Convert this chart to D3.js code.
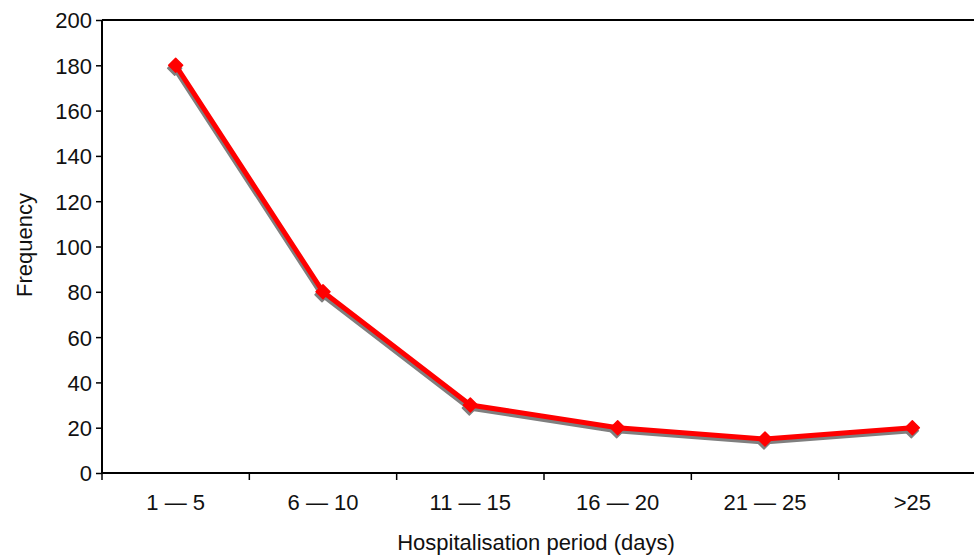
<!DOCTYPE html>
<html>
<head>
<meta charset="utf-8">
<script src="https://cdn.jsdelivr.net/npm/d3@7"></script>
<style>
  body { margin: 0; background: #fff; }
  text { font-family: "Liberation Sans", Arial, sans-serif; fill: #111; }
</style>
</head>
<body>
<svg id="chart"></svg>
<script>
const categories = ["1 \u2014 5", "6 \u2014 10", "11 \u2014 15", "16 \u2014 20", "21 \u2014 25", ">25"]
const frequency = [180, 80, 30, 20, 15, 20]
const yTicks = [0, 20, 40, 60, 80, 100, 120, 140, 160, 180, 200]

const width = 974, height = 555
const margin = {top: 20, left: 102, bottom: 82}
const plotWidth = 884   // runs past the right edge, as in the original
const plotHeight = height - margin.top - margin.bottom
const fontSize = "22px"

const svg = d3.select("#chart").attr("width", width).attr("height", height)
const g = svg.append("g").attr("transform", `translate(${margin.left},${margin.top})`)

const x = d3.scaleBand().domain(categories).range([0, plotWidth])
const y = d3.scaleLinear().domain([0, 200]).range([plotHeight, 0])

// top border
g.append("line").attr("x1", 0).attr("x2", plotWidth).attr("y1", 0).attr("y2", 0)
  .attr("stroke", "#000").attr("stroke-width", 2)

// y axis
const yAxis = g.append("g").call(d3.axisLeft(y).tickValues(yTicks).tickSize(6).tickPadding(4))
yAxis.select(".domain").attr("stroke-width", 2).attr("d", `M0,${plotHeight}V0`)
yAxis.selectAll(".tick line").attr("stroke-width", 1.5)
yAxis.selectAll("text").style("font-size", fontSize).attr("dy", "0.36em")

// x axis, ticks between categories
const xAxis = g.append("g").attr("transform", `translate(0,${plotHeight})`)
xAxis.append("line").attr("x1", 0).attr("x2", plotWidth).attr("stroke", "#000").attr("stroke-width", 2)
xAxis.selectAll("line.tk")
  .data(categories)
  .join("line")
  .attr("class", "tk")
  .attr("x1", d => x(d)).attr("x2", d => x(d))
  .attr("y1", 0).attr("y2", 7)
  .attr("stroke", "#000").attr("stroke-width", 1.5)
xAxis.selectAll("text")
  .data(categories)
  .join("text")
  .attr("x", d => x(d) + x.bandwidth() / 2)
  .attr("y", 37)
  .attr("text-anchor", "middle")
  .style("font-size", fontSize)
  .text(d => d)

// titles
svg.append("text").text("Frequency")
  .attr("transform", `translate(32,245) rotate(-90)`)
  .attr("text-anchor", "middle").style("font-size", fontSize)
svg.append("text").text("Hospitalisation period (days)")
  .attr("x", 536).attr("y", 550)
  .attr("text-anchor", "middle").style("font-size", fontSize)

const line = d3.line().x((d, i) => x(categories[i]) + x.bandwidth() / 2).y(d => y(d))
const diamond = d3.symbol().type(d3.symbolDiamond2).size(125)

// shadow then series
const layers = [{dx: -1, dy: 3, color: "#7f7f7f"}, {dx: 0, dy: 0, color: "#ff0000"}]
layers.forEach(l => {
  const lg = g.append("g").attr("transform", `translate(${l.dx},${l.dy})`)
  lg.append("path").datum(frequency)
    .attr("d", line).attr("fill", "none")
    .attr("stroke", l.color).attr("stroke-width", 5).attr("stroke-linejoin", "round")
  lg.selectAll("path.mk").data(frequency).join("path")
    .attr("class", "mk")
    .attr("d", diamond)
    .attr("transform", (d, i) => `translate(${x(categories[i]) + x.bandwidth() / 2},${y(d)})`)
    .attr("fill", l.color)
    .attr("stroke", l.color).attr("stroke-width", 1.5).attr("stroke-linejoin", "round")
})
</script>
</body>
</html>
